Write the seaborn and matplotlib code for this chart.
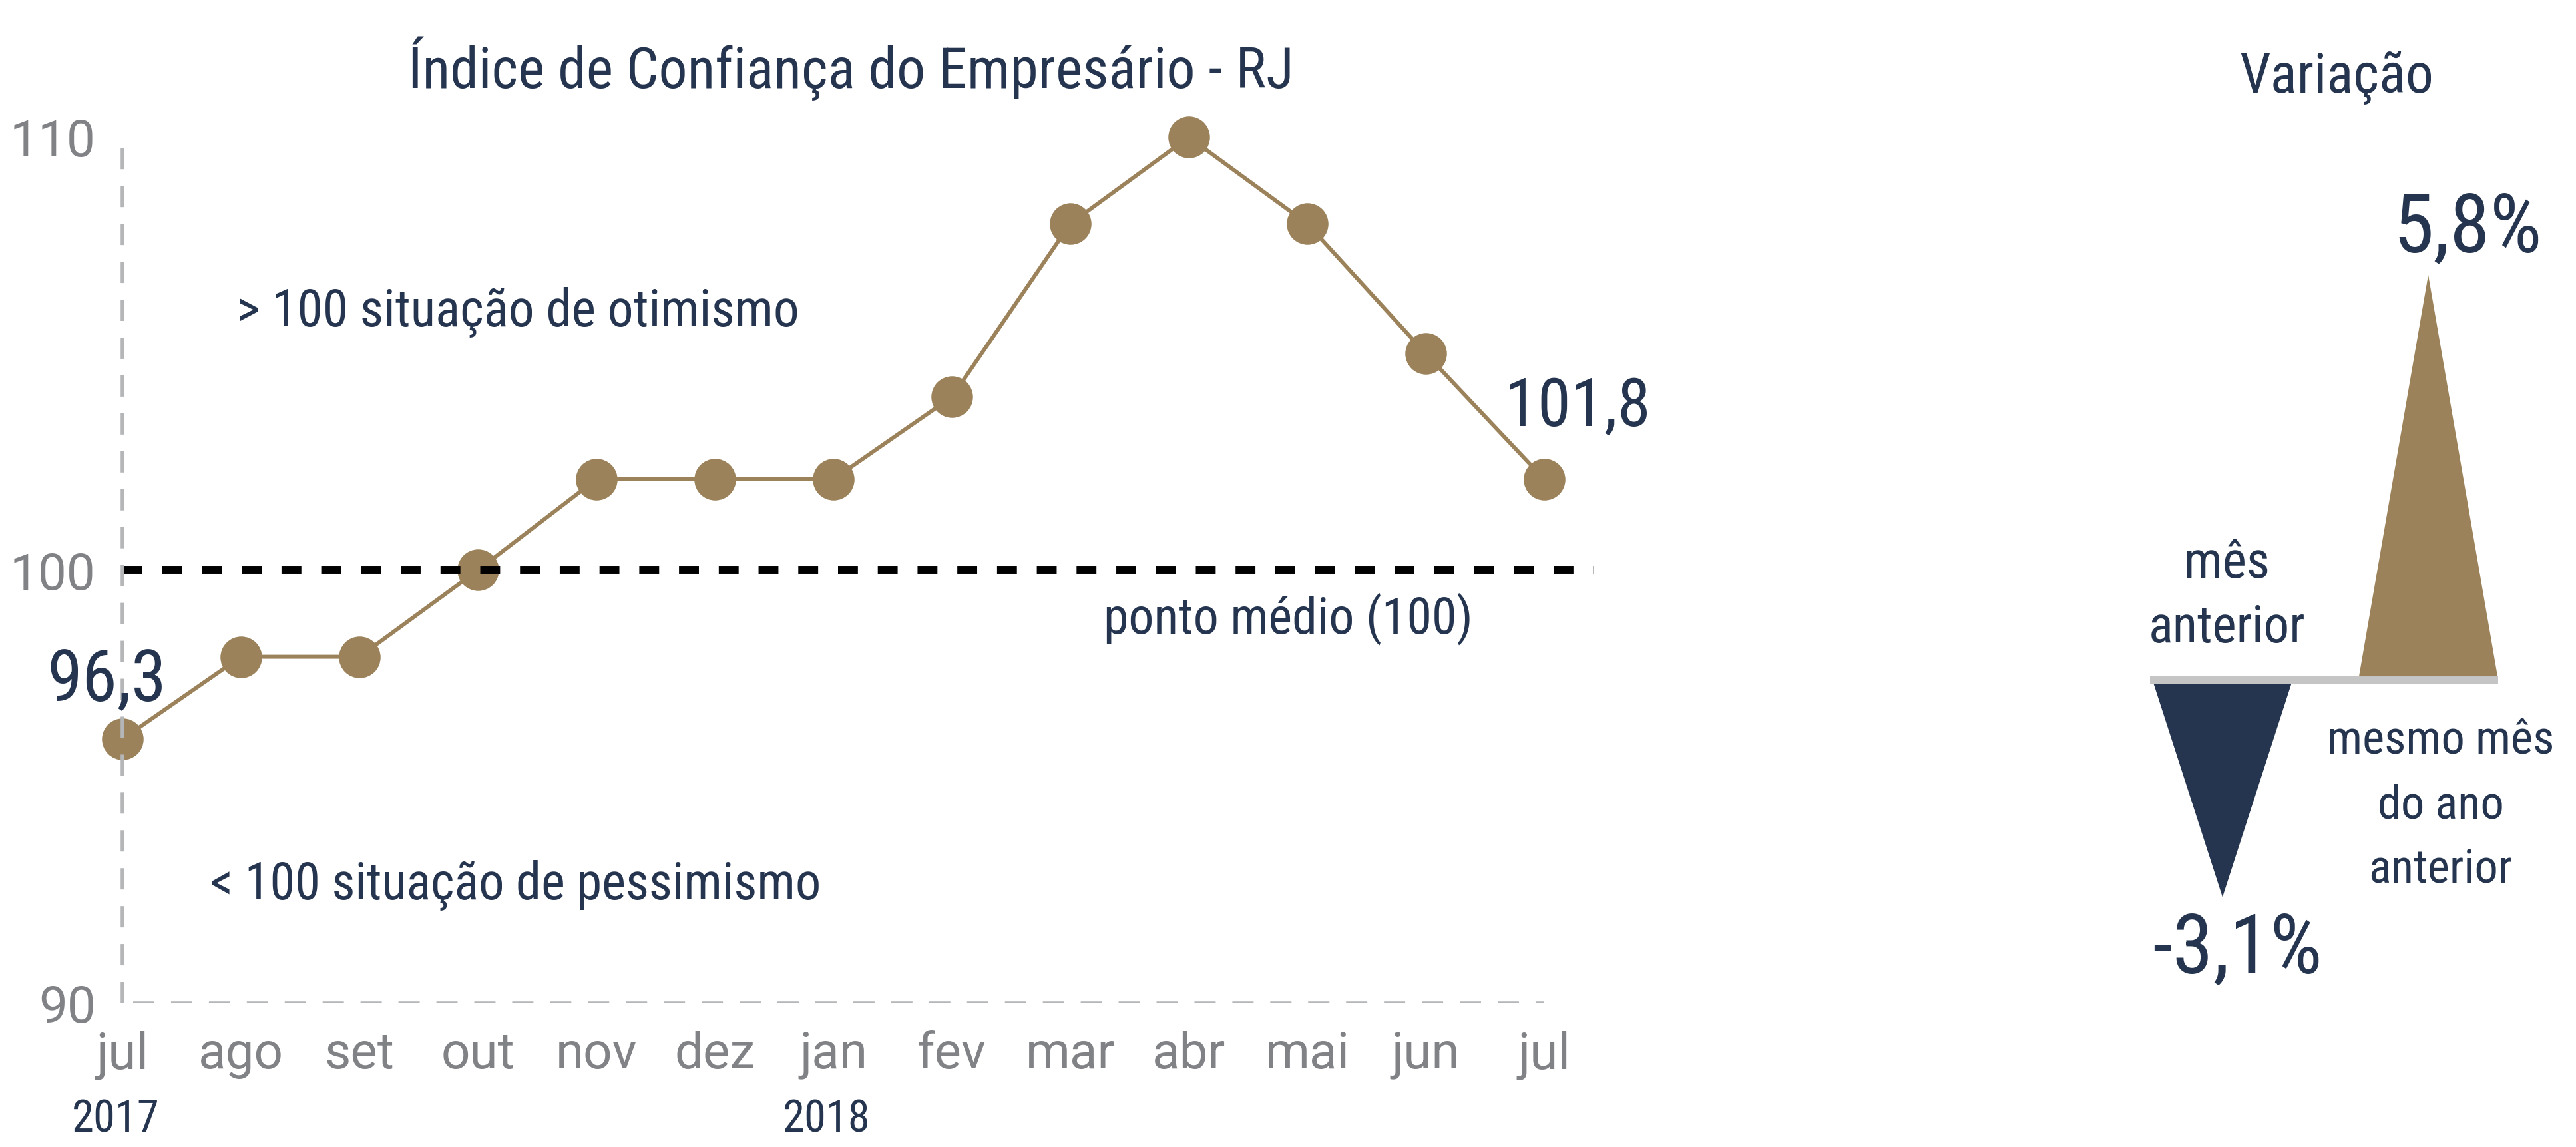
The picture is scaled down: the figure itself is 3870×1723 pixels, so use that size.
import matplotlib
matplotlib.use("Agg")
import matplotlib.pyplot as plt
import matplotlib.font_manager as fm
import seaborn as sns

# data
MESES = ["jul", "ago", "set", "out", "nov", "dez", "jan",
         "fev", "mar", "abr", "mai", "jun", "jul"]
ANOS = ["2017", "2018"]
ANOS_POS = [0, 6]  # index of the month under which each year is written
ICEI = [96.1, 98.0, 98.0, 100.0, 102.1, 102.1, 102.1,
        104.0, 108.0, 110.0, 108.0, 105.0, 102.1]
ROTULO_INICIO = "96,3"
ROTULO_FIM = "101,8"
Y_TICKS = [90, 100, 110]

VAR_NOMES = ["mês\nanterior", "mesmo mês\ndo ano\nanterior"]
VAR_VALORES = [-3.1, 5.8]
VAR_ROTULOS = ["-3,1%", "5,8%"]

NAVY = "#253550"
TAN = "#9b825a"
TICK_GRAY = "#818285"
GRID_GRAY = "#b5b6b8"
BASE_GRAY = "#c5c5c5"

sns.set_theme(style="white")

# pick the narrowest installed family for the condensed look of the original
fonts = fm.fontManager.ttflist
names = {f.name for f in fonts}
STRETCH = "normal"
if "Roboto Condensed" in names:
    COND = "Roboto Condensed"
elif "Liberation Sans Narrow" in names:
    COND = "Liberation Sans Narrow"
elif any(f.name == "DejaVu Sans" and "ondensed" in str(f.stretch) for f in fonts):
    COND, STRETCH = "DejaVu Sans", "condensed"
elif "Roboto" in names:
    COND = "Roboto"
else:
    COND = "DejaVu Sans"
TICKF = "Roboto" if "Roboto" in names else "DejaVu Sans"
plt.rcParams["font.family"] = [COND, "DejaVu Sans"]
plt.rcParams["font.stretch"] = STRETCH

W, H = 3870, 1724
fig = plt.figure(figsize=(W / 100, H / 100), dpi=100)
fig.patch.set_facecolor("white")
renderer = fig.canvas.get_renderer()


def fit(t, width_px, max_size):
    # scale the font so the text is as wide as in the reference
    w = t.get_window_extent(renderer).width
    t.set_fontsize(min(max_size, t.get_fontsize() * width_px / w))
    return t


# ---- left panel: line chart ----
ax = fig.add_axes([184 / W, 216 / H, (12.42 * 178) / W, 1301 / H])
x = list(range(len(MESES)))
sns.lineplot(x=x, y=ICEI, ax=ax, color=TAN, linewidth=4.3, marker="o",
             markersize=45, markeredgewidth=0, clip_on=False, zorder=3)
ax.set_xlim(0, 12.42)
ax.set_ylim(90, 110)
for s in ax.spines.values():
    s.set_visible(False)

ax.axhline(100, color="black", lw=8.6, linestyle=(0, (2.5, 2.5)),
           dash_capstyle="butt", zorder=4)
ax.hlines(90, 0.09, 12, color=GRID_GRAY, lw=4, linestyles=[(0, (5.75, 4.5))], zorder=2)
ax.vlines(0, 90, 110, color=GRID_GRAY, lw=4, linestyles=[(0, (5.75, 4.5))], zorder=4,
          clip_on=False)

ax.set_xticks(x)
ax.set_xticklabels(MESES)
ax.set_yticks(Y_TICKS)
ax.set_yticklabels([str(v) for v in Y_TICKS])
ax.tick_params(length=0, labelsize=55, colors=TICK_GRAY, pad=29)
for lab in ax.get_xticklabels() + ax.get_yticklabels():
    lab.set_fontfamily([TICKF, "DejaVu Sans"])
    lab.set_fontstretch("normal")
    lab.set_color(TICK_GRAY)
ax.set_xlabel("")
ax.set_ylabel("")

xt = ax.get_xaxis_transform()
for ano, pos in zip(ANOS, ANOS_POS):
    t = ax.text(pos - 0.06, -0.148, ano, transform=xt, ha="center", va="baseline",
                fontsize=52, color=NAVY)
    fit(t, 132, 62)

fit(ax.text(-0.13, 97.0, ROTULO_INICIO, ha="center", va="baseline", fontsize=80,
            color=NAVY, zorder=6), 180, 97)
fit(ax.text(12.28, 103.34, ROTULO_FIM, ha="center", va="baseline", fontsize=80,
            color=NAVY, zorder=6), 220, 97)
fit(ax.text(0.96, 105.65, "> 100 situação de otimismo", ha="left", va="baseline",
            fontsize=60, color=NAVY), 847, 70)
fit(ax.text(0.74, 92.41, "< 100 situação de pessimismo", ha="left", va="baseline",
            fontsize=60, color=NAVY), 919, 70)
fit(ax.text(9.84, 98.55, "ponto médio (100)", ha="center", va="baseline",
            fontsize=59, color=NAVY), 555, 70)

fit(fig.text(1278 / W, 1 - 132 / H, "Índice de Confiança do Empresário - RJ",
             ha="center", va="baseline", fontsize=65, color=NAVY), 1330, 76)

# ---- right panel: variation triangles ----
ax2 = fig.add_axes([3100 / W, 176 / H, 770 / W, 1365 / H])
ax2.set_xlim(-0.773, 1.718)
ax2.set_ylim(-5, 8)
ax2.axis("off")
cores = [NAVY, TAN]
for i, (v, c) in enumerate(zip(VAR_VALORES, cores)):
    ax2.fill([i - 0.34, i + 0.34, i], [0, 0, v], color=c, lw=0, zorder=2)
ax2.hlines(0, -0.353, 1.340, color=BASE_GRAY, lw=8.6, zorder=3)

fit(ax2.text(0.553, 8.42, "Variação", ha="center", va="baseline", fontsize=64,
             color=NAVY), 292, 66)
fit(ax2.text(1.19, 6.14, VAR_ROTULOS[1], ha="center", va="baseline", fontsize=86,
             color=NAVY), 224, 94)
fit(ax2.text(0.072, -4.18, VAR_ROTULOS[0], ha="center", va="baseline", fontsize=86,
             color=NAVY), 256, 90)
# multi-line texts: baseline alignment refers to the last line
fit(ax2.text(0.02, 0.55, VAR_NOMES[0], ha="center", va="baseline", fontsize=57,
             color=NAVY, multialignment="center", linespacing=1.38), 236, 62)
fit(ax2.text(1.06, -2.895, VAR_NOMES[1], ha="center", va="baseline", fontsize=57,
             color=NAVY, multialignment="center", linespacing=1.58), 341, 62)

fig.savefig("out.png", dpi=100, facecolor="white")
